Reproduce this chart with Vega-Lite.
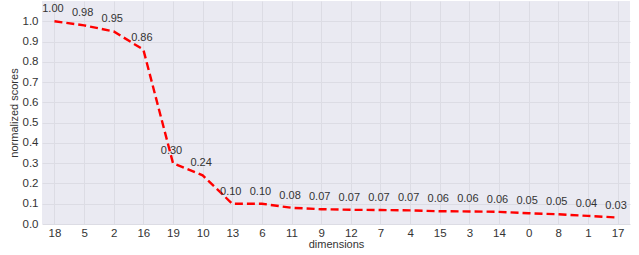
{
  "$schema": "https://vega.github.io/schema/vega-lite/v6.json",
  "width": 588,
  "height": 223,
  "autosize": {"type": "none"},
  "padding": {"left": 42, "top": 1, "right": 9, "bottom": 31},
  "background": "white",
  "config": {
    "view": {"fill": "#EAEAF2", "stroke": null},
    "axis": {
      "grid": true,
      "gridColor": "#DCDCE4",
      "gridWidth": 1,
      "domain": false,
      "ticks": false,
      "labelColor": "#333333",
      "titleColor": "#333333",
      "labelFont": "Liberation Sans",
      "titleFont": "Liberation Sans",
      "labelFontSize": 11.5,
      "titleFontSize": 11,
      "titleFontWeight": "normal"
    }
  },
  "data": {
    "values": [
      {"dim": "18", "score": 1.00, "label": "1.00"},
      {"dim": "5", "score": 0.98, "label": "0.98"},
      {"dim": "2", "score": 0.95, "label": "0.95"},
      {"dim": "16", "score": 0.86, "label": "0.86"},
      {"dim": "19", "score": 0.30, "label": "0.30"},
      {"dim": "10", "score": 0.24, "label": "0.24"},
      {"dim": "13", "score": 0.10, "label": "0.10"},
      {"dim": "6", "score": 0.10, "label": "0.10"},
      {"dim": "11", "score": 0.08, "label": "0.08"},
      {"dim": "9", "score": 0.073, "label": "0.07"},
      {"dim": "12", "score": 0.07, "label": "0.07"},
      {"dim": "7", "score": 0.069, "label": "0.07"},
      {"dim": "4", "score": 0.067, "label": "0.07"},
      {"dim": "15", "score": 0.063, "label": "0.06"},
      {"dim": "3", "score": 0.062, "label": "0.06"},
      {"dim": "14", "score": 0.06, "label": "0.06"},
      {"dim": "0", "score": 0.053, "label": "0.05"},
      {"dim": "8", "score": 0.048, "label": "0.05"},
      {"dim": "1", "score": 0.04, "label": "0.04"},
      {"dim": "17", "score": 0.032, "label": "0.03"}
    ]
  },
  "encoding": {
    "x": {
      "field": "dim",
      "type": "ordinal",
      "sort": null,
      "scale": {"type": "point", "padding": 0.42},
      "axis": {"title": "dimensions", "labelAngle": 0, "labelPadding": 3, "titlePadding": 0}
    },
    "y": {
      "field": "score",
      "type": "quantitative",
      "scale": {"domain": [0, 1.1], "nice": false, "zero": true},
      "axis": {"title": "normalized scores", "values": [0, 0.1, 0.2, 0.3, 0.4, 0.5, 0.6, 0.7, 0.8, 0.9, 1.0], "format": ".1f", "labelPadding": 4, "titlePadding": 3}
    }
  },
  "layer": [
    {
      "mark": {"type": "line", "color": "#FF0000", "strokeWidth": 2.4, "strokeDash": [8, 4]}
    },
    {
      "mark": {"type": "text", "dy": -12, "dx": -1.5, "fontSize": 11, "font": "Liberation Sans", "color": "#333333"},
      "encoding": {"text": {"field": "label"}}
    }
  ]
}
